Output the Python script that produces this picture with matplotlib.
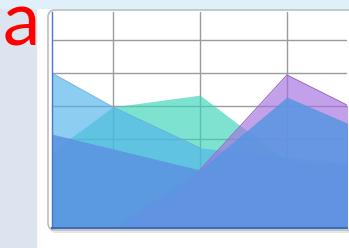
import numpy as np
import matplotlib
matplotlib.use('Agg')
import matplotlib.pyplot as plt
from matplotlib.patches import Rectangle, FancyBboxPatch
from matplotlib.transforms import IdentityTransform

# data (x = category index, values in grid units)
x = [0, 1, 2, 3, 4]
light_blue = [5.44, 3.97, 2.73, 2.45, 2.20]
teal       = [2.03, 3.97, 4.33, 2.33, 2.11]
purple     = [0.00, 0.30, 2.06, 4.94, 3.62]
blue       = [3.34, 2.70, 2.06, 4.27, 3.13]

W, H = 349, 248
fig = plt.figure(figsize=(W/100, H/100), dpi=100)
fig.patch.set_facecolor('white')
px = IdentityTransform()

# background strips
fig.add_artist(Rectangle((0, 0), 36, H, color='#dce5ef', transform=px, zorder=0))
fig.add_artist(Rectangle((0, H-8), W, 8, color='#dff0fb', transform=px, zorder=0))

# panel with shadow
fig.add_artist(FancyBboxPatch((49, H-233), 320, 220, boxstyle='round,pad=0,rounding_size=7',
                              fc='#e6e6e6', ec='none', transform=px, zorder=0.5))
fig.add_artist(FancyBboxPatch((48, H-230), 320, 220, boxstyle='round,pad=0,rounding_size=7',
                              fc='white', ec='#bdbdbd', lw=1.2, transform=px, zorder=0.6))

fig.text(3/W, (H-46)/H, 'a', color='#ff0000', fontsize=54, family=['Lato', 'DejaVu Sans'],
         va='baseline', ha='left', zorder=3)

ax = fig.add_axes([52/W, (H-228)/H, 295/W, 216/H])
ax.set_zorder(1)
ax.set_facecolor('none')
ax.set_xlim(0.3, 3.69)
ax.set_ylim(0.3, 6.85)

ax.set_xticks([1, 2, 3])
ax.set_yticks([1, 2, 3, 4, 5, 6])
ax.grid(True, color='#9c9c9c', lw=1.0)
ax.set_axisbelow(True)
ax.tick_params(length=0, labelbottom=False, labelleft=False)

ax.fill_between(x, 0, teal, color='#37d4b7', alpha=0.65, lw=0)
ax.fill_between(x, 0, light_blue, color='#50b2eb', alpha=0.65, lw=0)
ax.plot(x[:3], light_blue[:3], color='#6aaad8', lw=0.6)
ax.fill_between(x, 0, purple, color='#a46ddf', alpha=0.65, lw=0)
ax.plot(x[2:], purple[2:], color='#9a70c8', lw=0.8)
ax.fill_between(x, 0, blue, color='#5b95e2', alpha=0.88, lw=0)

for s in ['top', 'right']:
    ax.spines[s].set_visible(False)
ax.spines['bottom'].set_color('#3f6cb8')
ax.spines['bottom'].set_linewidth(1.5)
ax.spines['left'].set_color('#4a78c0')
ax.spines['left'].set_linewidth(1.0)

fig.savefig('out.png', dpi=100)
